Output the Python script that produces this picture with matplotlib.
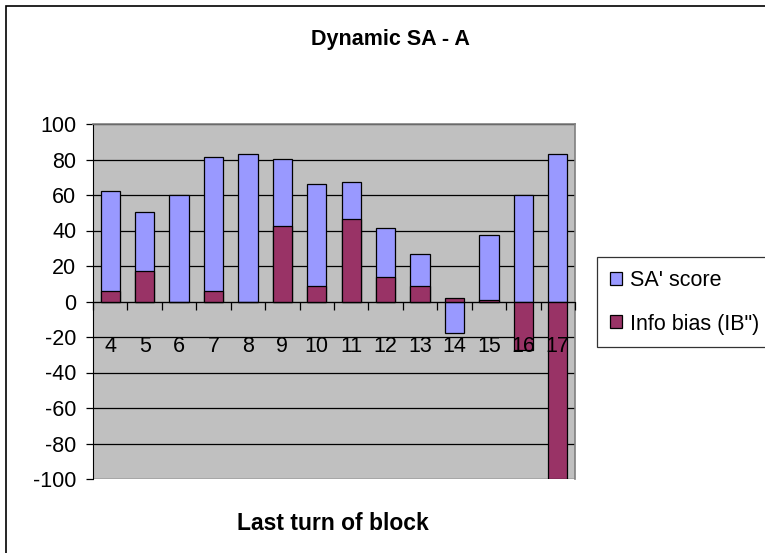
import numpy as np
import matplotlib
matplotlib.use('Agg')
from matplotlib import pyplot as plt
from matplotlib.patches import Rectangle

# values
turns = ['4', '5', '6', '7', '8', '9', '10', '11', '12', '13', '14', '15', '16', '17']
sa_score = [62, 50.5, 60, 81.5, 83, 80.5, 66, 67.5, 41.5, 27, -18, 37.5, 60, 83]
info_bias = [6, 17, 0, 6, 0, 42.5, 9, 46.5, 14, 9, 2, 1, -27.5, -100]

plt.rcParams['font.family'] = ['Liberation Sans', 'DejaVu Sans']
plt.rcParams['axes.unicode_minus'] = False

fig = plt.figure(figsize=(7.65, 5.53), dpi=100)
ax = fig.add_axes([93 / 765, 1 - 479 / 553, 482 / 765, 355 / 553])
ax.set_facecolor('#C0C0C0')

x = np.arange(len(turns))
w = 0.56
ax.bar(x, sa_score, w, color='#9999FF', edgecolor='black', linewidth=0.9,
       label="SA' score", zorder=3)
ax.bar(x, info_bias, w, color='#993366', edgecolor='black', linewidth=0.9,
       label='Info bias (IB")', zorder=4)

ax.set_xlim(-0.5, len(turns) - 0.5)
ax.set_ylim(-100, 100)
ax.set_yticks(np.arange(-100, 101, 20))
ax.yaxis.grid(True, color='black', linewidth=0.9)
ax.yaxis.set_zorder(1)
ax.tick_params(axis='y', direction='out', length=5, width=0.9, pad=7,
               labelsize=15.5)

# category axis crosses at zero, ticks between categories, labels over bars
ax.spines['bottom'].set_position(('data', 0))
ax.spines['bottom'].set_zorder(5)
ax.xaxis.set_zorder(6)
ax.set_xticks(x)
ax.set_xticklabels(turns)
ax.set_xticks(np.arange(-0.5, len(turns)), minor=True)
ax.tick_params(axis='x', which='major', length=0, pad=25, labelsize=15.5)
ax.tick_params(axis='x', which='minor', direction='out', length=6, width=0.9)

ax.spines['left'].set_color('black')
for s in ['top', 'right']:
    ax.spines[s].set_color('#808080')
    ax.spines[s].set_linewidth(1.2)

fig.text(390 / 765, 1 - 40 / 553, 'Dynamic SA - A', ha='center', va='center',
         fontsize=15.5, fontweight='bold')
fig.text(333 / 765, 1 - 523 / 553, 'Last turn of block', ha='center',
         va='center', fontsize=16.5, fontweight='bold')

leg = fig.legend(loc='upper left', bbox_to_anchor=(597 / 765, 1 - 257 / 553),
                 fontsize=15.5, frameon=True, fancybox=False, borderaxespad=0,
                 handlelength=0.55, handleheight=0.55, handletextpad=0.4,
                 labelspacing=1.05, borderpad=0.6)
leg.get_frame().set_edgecolor('black')
leg.get_frame().set_linewidth(0.9)

# outer chart frame
fig.patches.append(Rectangle((6.5 / 765, -0.1), 2, 1.1 - 6 / 553,
                             transform=fig.transFigure, fill=False,
                             edgecolor='black', linewidth=1.2))

fig.savefig('out.png', dpi=100)
